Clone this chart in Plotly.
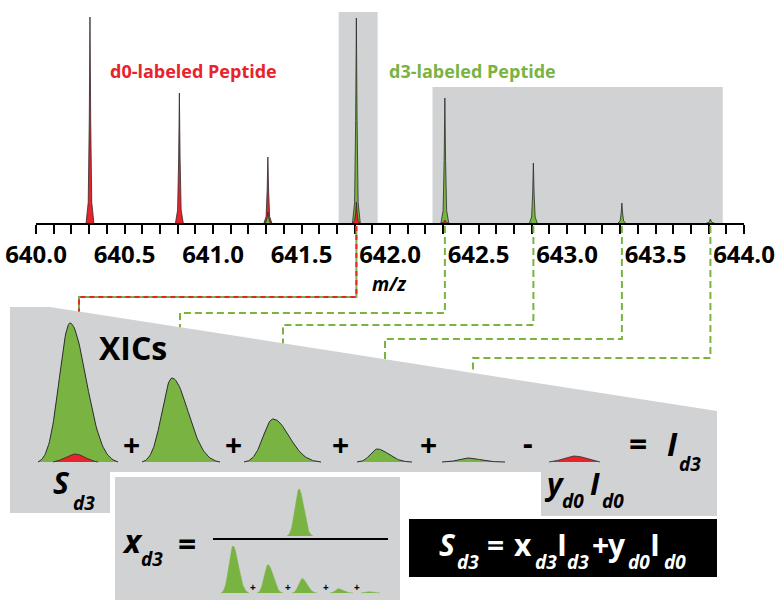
import numpy as np
import plotly.graph_objects as go

# ---------------- data ----------------
d0_mz = [640.305, 640.81, 641.31, 641.81, 642.31]
d0_int = [206, 130, 66, 21, 3]
d3_mz = [641.31, 641.81, 642.31, 642.81, 643.31, 643.81]
d3_int = [11, 205, 125, 60, 20, 4]
tick_vals = [640.0, 640.5, 641.0, 641.5, 642.0, 642.5, 643.0, 643.5, 644.0]
tick_text = ["640.0", "640.5", "641.0", "641.5", "642.0", "642.5", "643.0", "643.5", "644.0"]
minor_tick_vals = [round(640.0 + 0.1 * i, 1) for i in range(41)]
window_d0d3 = [641.71, 641.93]
window_d3 = [642.24, 643.88]
window_d3_top = 136
xic_mz = [641.81, 642.31, 642.81, 643.31, 643.81]   # traced isotopes
xic_d3 = [139, 84, 43, 13, 4]                        # XIC apex heights (d3)
xic_d0_overlap = 8                                   # d0 contribution under first XIC
xic_d0 = 6                                           # y_d0 * I_d0 XIC

# ---------------- style / layout constants ----------------
W, H = 781, 600
AX_L, AX_R, AX_BASE, AX_TOP = 36, 744, 223, 12
GREY = "#d1d2d4"
GREEN = "#79b443"
RED = "#e8232b"
OUT = "#2b2b2b"
FONT = "Open Sans"


def mz_to_px(mz):
    return AX_L + (mz - 640.0) / 4.0 * (AX_R - AX_L)


def poly_top(x):
    return 307 + (x - 50) * (411 - 307) / (717 - 50)


def peak_xy(x0, xa, x1, base, h, k=4.5, n=40):
    xs, ys = [], []
    norm = 1 - np.exp(-k)
    for t in np.linspace(-1, 0, n):
        xs.append(xa + t * (xa - x0))
        ys.append(base - h * (np.exp(-k * t * t) - np.exp(-k)) / norm)
    for t in np.linspace(0, 1, n)[1:]:
        xs.append(xa + t * (x1 - xa))
        ys.append(base - h * (np.exp(-k * t * t) - np.exp(-k)) / norm)
    return xs, ys


fig = go.Figure()

# ---------------- spectrum ----------------
peaks = [(m, h, RED) for m, h in zip(d0_mz, d0_int)] + [(m, h, GREEN) for m, h in zip(d3_mz, d3_int)]
peaks.sort(key=lambda p: -p[1])
offs = [-0.022, -0.01, -0.004, 0.0, 0.004, 0.01, 0.022]
fracs = [0.0, 0.1, 0.5, 1.0, 0.5, 0.1, 0.0]
for m, h, c in peaks:
    fig.add_trace(go.Scatter(
        x=[m + o for o in offs], y=[h * f for f in fracs], mode="lines",
        fill="toself", fillcolor=c, line=dict(color=OUT, width=0.8),
        xaxis="x", yaxis="y", hoverinfo="skip", showlegend=False))

shapes = [
    dict(type="rect", xref="x", yref="y", x0=window_d0d3[0], x1=window_d0d3[1], y0=0, y1=211,
         fillcolor=GREY, line=dict(width=0), layer="below"),
    dict(type="rect", xref="x", yref="y", x0=window_d3[0], x1=window_d3[1], y0=0, y1=window_d3_top,
         fillcolor=GREY, line=dict(width=0), layer="below"),
    # big XIC panel
    dict(type="path", xref="x2", yref="y2",
         path="M10,307 L50,307 L717,411 L717,516 L541,516 L541,472 L110,472 L110,513 L10,513 Z",
         fillcolor=GREY, line=dict(width=0), layer="below"),
    # x_d3 panel
    dict(type="rect", xref="x2", yref="y2", x0=115, x1=400, y0=477, y1=600,
         fillcolor=GREY, line=dict(width=0), layer="below"),
    # black equation box
    dict(type="rect", xref="x2", yref="y2", x0=409, x1=717, y0=519, y1=577,
         fillcolor="black", line=dict(width=0), layer="below"),
    # fraction bar
    dict(type="line", xref="x2", yref="y2", x0=213, x1=388, y0=539, y1=539,
         line=dict(color="black", width=2)),
]

# connectors from spectrum to XICs
elbow_y = [297, 313, 325, 339, 358]
left_x = [79, 180, 283, 385, 473]
for i, m in enumerate(xic_mz):
    px = mz_to_px(m)
    path = "M%.1f,226 V%.1f H%.1f V%.1f" % (px, elbow_y[i], left_x[i], poly_top(left_x[i]))
    if i == 0:
        shapes.append(dict(type="path", xref="x2", yref="y2", path=path,
                           line=dict(color=GREEN, width=2)))
        shapes.append(dict(type="path", xref="x2", yref="y2", path=path,
                           line=dict(color=RED, width=2, dash="5px,4px")))
    else:
        shapes.append(dict(type="path", xref="x2", yref="y2", path=path,
                           line=dict(color=GREEN, width=2, dash="7px,4px")))

# ---------------- XIC peaks ----------------
XIC_BASE = 462
xic_geom = [(38, 70, 118), (142, 172, 220), (244, 273, 321), (357, 377, 412), (442, 467, 505)]
for (x0, xa, x1), h in zip(xic_geom, xic_d3):
    xs, ys = peak_xy(x0, xa, x1, XIC_BASE, h)
    fig.add_trace(go.Scatter(x=xs, y=ys, mode="lines", fill="toself", fillcolor=GREEN,
                             line=dict(color=OUT, width=1), xaxis="x2", yaxis="y2",
                             hoverinfo="skip", showlegend=False))
xs, ys = peak_xy(53, 75, 98, XIC_BASE, xic_d0_overlap, k=2.5)
fig.add_trace(go.Scatter(x=xs, y=ys, mode="lines", fill="toself", fillcolor=RED,
                         line=dict(color=OUT, width=0.8), xaxis="x2", yaxis="y2",
                         hoverinfo="skip", showlegend=False))
xs, ys = peak_xy(549, 575, 600, XIC_BASE, xic_d0, k=2.5)
fig.add_trace(go.Scatter(x=xs, y=ys, mode="lines", fill="toself", fillcolor=RED,
                         line=dict(color=OUT, width=0.8), xaxis="x2", yaxis="y2",
                         hoverinfo="skip", showlegend=False))

# fraction: numerator + denominator mini XICs
MINI = 47 / 139
xs, ys = peak_xy(287, 299, 313, 536, xic_d3[0] * MINI)
fig.add_trace(go.Scatter(x=xs, y=ys, mode="lines", fill="toself", fillcolor=GREEN,
                         line=dict(color=GREEN, width=0.5), xaxis="x2", yaxis="y2",
                         hoverinfo="skip", showlegend=False))
mini_geom = [(221, 233, 249), (257, 268, 283), (292, 302, 317), (330, 338, 353), (361, 368, 380)]
for (x0, xa, x1), h in zip(mini_geom, xic_d3):
    xs, ys = peak_xy(x0, xa, x1, 593, h * MINI)
    fig.add_trace(go.Scatter(x=xs, y=ys, mode="lines", fill="toself", fillcolor=GREEN,
                             line=dict(color=GREEN, width=0.5), xaxis="x2", yaxis="y2",
                             hoverinfo="skip", showlegend=False))

# ---------------- text ----------------
ann = []


def txt(t, x, y, size, color="black", bold=True, italic=False):
    s = t
    if italic:
        s = "<i>" + s + "</i>"
    if bold:
        s = "<b>" + s + "</b>"
    ann.append(dict(text=s, x=x, y=y, xref="x2", yref="y2", showarrow=False,
                    xanchor="center", yanchor="middle",
                    font=dict(family=FONT, size=size, color=color)))


txt("d0-labeled Peptide", 193, 71, 18, RED)
txt("d3-labeled Peptide", 472, 71, 18, GREEN)
txt("m/z", 389, 284, 19, italic=True)
txt("XICs", 133, 347, 32)
for x in [131, 233, 340, 428]:
    txt("+", x, 444, 30)
txt("-", 528, 442, 30)
txt("=", 638, 443, 32)
txt("I", 672, 443, 32, italic=True)
txt("d3", 690, 464, 19, italic=True)
txt("S", 61, 482, 30, italic=True)
txt("d3", 84, 503, 19, italic=True)
txt("y", 554, 483, 30, italic=True)
txt("d0", 573, 501, 19, italic=True)
txt("I", 595, 483, 30, italic=True)
txt("d0", 613, 501, 19, italic=True)
txt("x", 132, 540, 32, italic=True)
txt("d3", 152, 559, 19, italic=True)
txt("=", 187, 543, 32)
for x in [253, 288, 326, 357]:
    txt("+", x, 587, 10)
for t, x, y, s, it in [("S", 447, 544, 30, True), ("d3", 468, 562, 19, True), ("=", 495, 544, 30, False),
                       ("x", 523, 544, 30, False), ("d3", 546, 562, 19, True), ("I", 562, 544, 30, False),
                       ("d3", 578, 562, 19, True), ("+", 600, 544, 30, False), ("y", 617, 544, 30, False),
                       ("d0", 639, 562, 19, True), ("I", 655, 544, 30, False), ("d0", 675, 562, 19, True)]:
    txt(t, x, y, s, "white", True, it)

fig.update_layout(
    width=W, height=H, margin=dict(l=0, r=0, t=0, b=0, autoexpand=False),
    paper_bgcolor="white", plot_bgcolor="rgba(0,0,0,0)",
    showlegend=False, shapes=shapes, annotations=ann,
    xaxis=dict(domain=[AX_L / W, AX_R / W], range=[640, 644], anchor="y", automargin=False,
               tickmode="array", tickvals=tick_vals, ticktext=tick_text,
               ticks="outside", ticklen=9, tickwidth=2, tickcolor="black",
               showline=True, linewidth=2, linecolor="black", showgrid=False, zeroline=False,
               tickfont=dict(family=FONT, size=24, color="black", weight="bold"),
               minor=dict(tickmode="array", tickvals=minor_tick_vals, ticks="outside",
                          ticklen=9, tickwidth=1.5, tickcolor="black", showgrid=False),
               fixedrange=True),
    yaxis=dict(domain=[(H - AX_BASE) / H, (H - AX_TOP) / H], range=[0, 211], anchor="x",
               visible=False, fixedrange=True, automargin=False),
    xaxis2=dict(domain=[0, 1], range=[0, W], anchor="y2", visible=False, fixedrange=True,
                automargin=False),
    yaxis2=dict(domain=[0, 1], range=[H, 0], anchor="x2", visible=False, fixedrange=True,
                automargin=False),
)

fig.write_html("out.html")
